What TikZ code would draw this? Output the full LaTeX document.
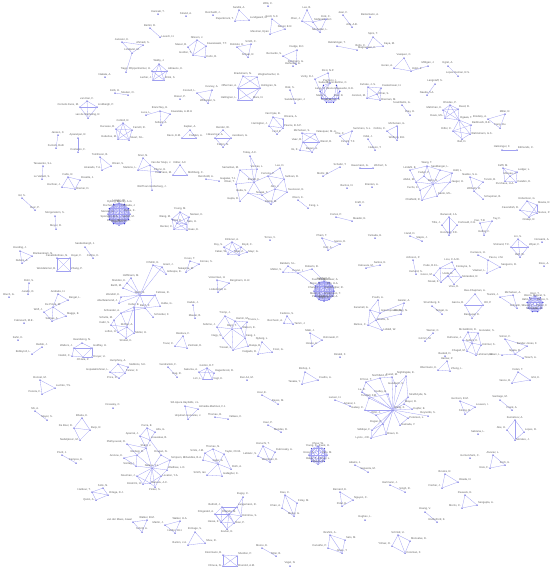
\documentclass[tikz,border=0pt]{standalone}
\usepackage{fontspec}
\setmainfont{Liberation Sans}
\usetikzlibrary{backgrounds}

\definecolor{audot}{RGB}{60,60,210}
\definecolor{coline}{RGB}{160,160,242}
\definecolor{lbltext}{RGB}{95,95,95}

\tikzset{
	au/.style={circle, fill=audot, inner sep=0pt, minimum size=1.5pt},
	lbl/.style={font=\fontsize{2.7}{3}\selectfont, text=lbltext, inner sep=0.3pt},
	co/.style={draw=coline, line width=0.3pt},
}

% one author: name, position, label side, text
\newcommand{\person}[4]{\node[au, label={[lbl]#3:{#4}}] (#1) at (#2) {};}

\begin{document}
\begin{tikzpicture}[x=1pt, y=-1pt]
	\useasboundingbox (0,0) rectangle (551,574);

	% top strip
	\person{wills}{268,6}{above}{Wills, C.}
	\person{reich}{213,15}{above}{Reichardt, J.}
	\person{strand}{186,16}{above}{Strand, A.}
	\person{kanz}{158,14}{above}{Kanzaki, T.}
	\person{sandik}{239,10}{above}{Sandik, A.}
	\person{papen}{235,21}{above left}{Papenbrock, T.}
	\person{lund}{249,20}{above right}{Lundgaard, G.}
	\person{scott}{272,19}{above}{Scott, S.C.}
	\person{daniel}{285,29}{above}{Daniel, E.R.}
	\person{mesman}{270,34}{above left}{Mesman, Ryan}
	\person{lee}{307,10}{above}{Lee, B.}
	\person{chenj}{302,21}{above left}{Chen, J.}
	\person{stef}{313,22}{above right}{Stefanelli, G.C.}
	\person{eick}{326,19}{above}{Eick, C.}
	\person{nesh}{320,32}{above}{Neshatian, L.}
	\person{jean}{343,15}{above}{Jean, F.}
	\person{alfa}{352,27}{above}{Alfa, A.B.}
	\person{berk}{370,17}{above}{Berkemann, A.}
	\person{spiro}{373,37}{above}{Spiro, T.}
	\person{bolts}{367,48}{above left}{Bolts, C.}
	\person{kaya}{383,46}{above right}{Kaya, M.}
	\person{bebl}{337,46}{above}{Beblahnger, T.}
	\person{magn}{357,50}{above right}{Magnussen, K.}
	\person{bert}{150,28}{above}{Bertini, R.}
	\person{loes}{160,37}{right}{Loesch, H.}
	\person{jans}{122,42}{above}{Jansson, K.}
	\person{ahmad}{143,45}{above}{Ahmadi, S.}
	\person{lindq}{132,53}{above}{Lindqvist, M.}
	\person{nils}{197,40}{above}{Nilsson, J.}
	\person{kowt}{206,46}{above right}{Kowalewski, T.T.}
	\person{mase}{188,47}{above left}{Maser, B.}
	\person{gord}{193,55}{above left}{Gordon, T.}
	\person{kuhn}{205,57}{right}{Kuhn, R.}
	\person{roli}{237,47}{above}{Rolinski, H.}
	\person{smic}{251,44}{above}{Smith, C.}
	\person{scha}{248,57}{above}{Schaal, R.}
	\person{dudg}{297,50}{above}{Dudge, B.C.}
	\person{bernar}{283,56}{above left}{Bernardo, S.}
	\person{ruhm}{296,64}{above}{Ruhmann, G.}
	\person{vasq}{404,58}{above}{Vasquez, C.}
	\person{goran}{394,68}{above left}{Goran, A.}
	\person{holst}{411,71}{above right}{Holst, P.}
	\person{milli}{428,66}{above}{Milligan, J.}
	\person{egret}{448,66}{above}{Egret, A.}
	\person{lopez}{458,76}{above}{Lopez-Hernan, R.S.}
	\person{lstaf}{435,84}{above}{Langstaff, S.}
	\person{naeda}{427,95}{above}{Naeda, V.A.}

	% upper left
	\person{tiago}{126,72}{above}{Tiago, P.}
	\person{nakata}{105,77}{above}{Nakata, A.}
	\person{kolb}{115,93}{above}{Kolb, H.}
	\person{meul}{128,95}{above}{Meulen, O.}
	\person{vkan}{87,101}{above}{van Kan, F.}
	\person{corn}{80,107}{above left}{Cornelis Kuns, M.}
	\person{lindb}{97,107}{above right}{Lindbergh, P.}
	\person{vwel}{88,118}{above}{van de Welhuling, R.}
	\person{cott}{123,123}{above}{Cottrell, R.}
	\person{duca}{116,129}{above left}{Ducasse, B.}
	\person{farr}{132,130}{above right}{Farrelli, R.}
	\person{hube}{118,139}{above left}{Hubertus, M.}
	\person{stua}{129,140}{above right}{Stuart, N.L.}
	\person{jansen}{58,135}{above}{Jansen, C.}
	\person{furn}{56,148}{above}{Furnish, Ruth}
	\person{apar}{78,138}{above}{Aparanjan, R.}
	\person{cost}{78,152}{above}{Costanzo, F.}
	\person{toml}{100,157}{above}{Tomlinson, B.}
	\person{oliv}{111,166}{above right}{Olivari, S.}
	\person{alva}{102,170}{above left}{Alvarado, T.A.}
	\person{tara}{43,166}{above}{Tarasenko, S.L.}
	\person{leva}{42,179}{above}{Le Vaillant, S.}
	\person{fall}{68,177}{above}{Fallis, R.}
	\person{rose}{80,180}{above right}{Rosette, J.}
	\person{hoch}{62,187}{above left}{Hochner, J.}
	\person{brem}{75,189}{right}{Bremer, D.}
	\person{gil}{22,198}{above}{Gil, S.}
	\person{ruiz}{35,210}{above}{Ruiz, P.}
	\person{morg}{55,216}{above}{Morgenstern, S.}
	\person{meyr}{56,229}{above}{Meyer, R.}

	% upper middle
	\person{walby}{159,64}{above}{Walby, J.}
	\person{oppe}{152,71}{above left}{Oppenheimer, H.}
	\person{adri}{167,71}{above right}{Adriaens, K.}
	\person{lach}{153,80}{above left}{Lacher, J.}
	\person{brin}{164,80}{above right}{Brink, S.}
	\person{brack}{243,76}{above}{Brackmann, N.}
	\person{wegh}{257,77}{above right}{Wegherbacher, H.}
	\person{offe}{238,88}{above left}{Offerman, A.}
	\person{holm}{260,88}{above right}{Holmgren, N.}
	\person{hall}{238,100}{above left}{Hallingren, L.}
	\person{marx}{252,100}{above right}{Marx, N.}
	\person{kevn}{212,90}{above}{Kevney, A.}
	\person{conn}{197,93}{above left}{Connell, L.}
	\person{whit}{208,103}{above}{Whitacker, S.}
	\person{bisser}{180,99}{above}{Bisser, P.}
	\person{branch}{160,111}{above}{Branchley, H.}
	\person{kowa}{170,114}{above right}{Kowalska, A.M.H.}
	\person{luca}{146,115}{above}{Luca, L.}
	\person{solt}{161,125}{above}{Soltani, A.}
	\person{kapl}{190,130}{above}{Kaplan, A.}
	\person{davi}{182,138}{above left}{Davis, E.M.}
	\person{fodd}{196,138}{above}{Fodden, A.}
	\person{bend}{223,130}{above}{Bender, W.}
	\person{hika}{215,138}{above}{Hikaomiya, A.}
	\person{jaco}{231,138}{above right}{Jacobsen, G.}
	\person{fult}{223,147}{above}{Fulton, N.}
	\person{vdyk}{273,117}{above}{Van Dyke, B.}
	\person{olive}{283,119}{above right}{Oliveira, A.}
	\person{harr}{269,126}{above left}{Harrington, J.}
	\person{pear}{283,128}{above right}{Pearce, B.S.P.}
	\person{lindf}{277,134}{above}{Lind, F.}
	\person{sino}{143,158}{above}{Sinor, N.}
	\person{vdsl}{150,165}{above right}{Van der Sluijs, J.}
	\person{cher}{160,172}{above}{Chervi, H.}
	\person{mart}{138,170}{above left}{Martens, L.}
	\person{wolf}{152,190}{above}{Wolff van Gelderberg, J.}
	\person{kibl}{180,165}{above}{Kibler, A.F.}
	\person{dpia}{173,175}{above left}{Del Piano, M.}
	\person{muhl}{187,175}{above right}{Mühlberg, C.}
	\person{rein}{206,179}{above}{Reinholdt, A.}
	\person{gaga}{219,181}{above right}{Gagalas, T.J.}

	% big group round Tokay
	\person{toka}{250,156}{above}{Tokay, A.C.}
	\person{sama}{240,170}{above left}{Samaritan, M.}
	\person{vorm}{257,169}{above}{Vormas, L.}
	\person{olit}{236,184}{above left}{Oliver, T.}
	\person{brandt}{254,182}{above}{Brandt, K.}
	\person{ferr}{268,176}{above}{Ferreira, P.}
	\person{leed}{280,168}{above}{Lee, D.}
	\person{sull}{284,179}{above right}{Sullivan, R.}
	\person{iked}{248,193}{above left}{Ikeda, S.}
	\person{nowa}{262,195}{above}{Nowak, T.}
	\person{ahnj}{275,189}{above}{Ahn, J.}
	\person{sven}{287,192}{above right}{Svensson, E.}
	\person{gupt}{240,201}{above left}{Gupta, R.}
	\person{cast2}{271,204}{above}{Castro, M.}

	% dense group left
	\foreach \i/\nm in {1/{Stanley, A.G.},2/{Hamada, J.},3/{Byrne, K.},4/{Seifert, M.},5/{Moreno, L.},6/{Dagenais, P.},
		7/{Kovacs, E.},8/{Sprengel, M.S.},9/{Mercier, G.},10/{Fischer, K.},11/{Dybvig, A.},12/{Lorenz, W.}}
		\node[au, label={[lbl]above:\nm}] (st\i) at ({119+11*cos(30*\i-90)},{214+11*sin(30*\i-90)}) {};
	\person{youn}{180,212}{above}{Young, M.}
	\person{wangm}{172,219}{above left}{Wang, M.}
	\person{niel}{189,217}{above right}{Nielsen, K.}
	\person{pohl}{177,223}{above}{Pohl, R.}
	\person{sato}{186,224}{above right}{Sato, H.}
	\person{beck}{174,229}{above left}{Becker, C.}
	\person{haas}{187,230}{right}{Haas, E.}
	\person{sand}{85,247}{above}{Sandenbergh, J.}
	\person{coll}{93,258}{above}{Collins, K.}
	\person{klin}{232,242}{above}{Klinkner, A.}
	\person{roys}{224,247}{above left}{Roy, S.}
	\person{boyd}{241,247}{above right}{Boyd, C.}
	\person{fabe}{228,254}{above left}{Faber, W.}
	\person{iqba}{239,255}{above}{Iqbal, Z.}
	\person{mayr}{247,252}{right}{Mayr, G.}

	% left middle
	\person{hood}{20,251}{above}{Hooding, J.}
	\person{blank}{32,256}{above right}{Blankenkram, N.}
	\person{dubo}{22,263}{above}{Dubois, A.}
	\person{casa}{57,258}{above}{Casalinbottnes, N.}
	\person{hoye}{70,258}{above right}{Hoyer, F.}
	\person{wdsm}{57,271}{above left}{Wendelsmer, B.}
	\person{zhan}{70,271}{above right}{Zhang, P.}
	\person{rohr}{29,283}{above}{Rohr, S.}
	\person{jura}{28,294}{above}{Jurado, O.}
	\person{bruch}{9,297}{above}{Bruch, G.}
	\person{andr}{58,294}{above}{Andrade, H.}
	\person{bergl}{68,300}{above right}{Bergal, L.}
	\person{dpin}{53,307}{above}{De Pinna, M.}
	\person{wolfj}{44,312}{above left}{Wolf, J.}
	\person{magg}{66,316}{above right}{Maggs, E.}
	\person{sali}{52,321}{above}{Salinas, A.}
	\person{fabr}{24,323}{above}{Fabreiuch, M.E.}
	\person{kahn}{18,340}{above}{Kahn, K.}
	\person{bedd}{42,347}{above}{Beddo, J.}
	\person{bobb}{32,354}{above left}{Bobbyroll, L.}
	\person{hear}{82,343}{above}{Heardsong, N.}
	\person{walt}{74,348}{above left}{Walters, J.}
	\person{godf}{92,348}{above right}{Godfrey, H.}
	\person{nesb}{72,356}{left}{Nesbit, C.}
	\person{ohar}{83,357}{below}{O'Hara, P.}
	\person{drey}{92,357}{right}{Dreyer, U.}

	% group round Weiss
	\person{ilmi}{153,265}{above}{Ill Minh, E.}
	\person{gran}{162,267}{above right}{Grant, J.}
	\person{gill}{166,274}{above right}{Gillespie, E.}
	\person{hoff}{131,278}{above}{Hoffmann, M.}
	\person{shel}{127,283}{above left}{Sheldon, K.}
	\person{bart}{123,288}{above left}{Barth, M.}
	\person{weis}{140,295}{above}{Weiß, B.}
	\person{fell}{155,295}{above right}{Fellows, R.}
	\person{wend}{121,297}{above left}{Wendoll, K.}
	\person{abul}{119,303}{above left}{Abulfaramond, J.}
	\person{kell}{134,307}{above}{Keller, B.}
	\person{bach}{145,308}{above}{Bach, F.}
	\person{hulb}{160,306}{above right}{Hulbe, G.}
	\person{schn}{121,313}{above left}{Schneider, A.}
	\person{schr}{153,317}{above right}{Schreiber, F.}
	\person{schu}{114,320}{above left}{Schulte, M.}
	\person{kabi}{111,325}{above left}{Kabir, S.}
	\person{rich}{127,327}{above}{Richter, A.}
	\person{loft}{118,332}{left}{Lofton, H.}
	\person{muel}{134,333}{right}{Müller, H.}
	\person{stro}{126,338}{below}{Strobel, K.}
	\person{krus}{190,261}{above}{Kruss, T.}
	\person{korn}{199,264}{above right}{Kornev, S.}
	\person{naka}{186,272}{above}{Nakajima, M.}
	\person{vick}{217,280}{above}{Vickerman, H.}
	\person{bergm}{229,283}{above right}{Bergmann, H.-R.}
	\person{lind}{218,292}{above}{Lindenblatt, A.}
	\person{kadu}{193,305}{above}{Kaduk, J.}
	\person{maur}{195,318}{above}{Maurer, B.}
	\person{trom}{225,316}{above}{Tromp, J.}
	\person{hamm}{235,321}{above right}{Hamm, M.}
	\person{trus}{247,322}{above right}{Trusov, L.}
	\person{sobr}{217,327}{above left}{Sobrino, J.}
	\person{bergt}{232,329}{above}{Berg, T.}
	\person{wats}{241,328}{right}{Watson, E.}
	\person{nagy}{223,338}{above left}{Nagy, S.}
	\person{kang}{245,338}{above right}{Kang, J.}
	\person{tros}{233,350}{above left}{Trosset, J.}
	\person{balu}{248,346}{right}{Baluja, B.}
	\person{bied}{183,336}{above}{Biedova, F.}
	\person{tova}{175,346}{above left}{Tovar, C.}
	\person{ziel}{187,348}{above right}{Zielinski, D.}
	\person{hump}{118,364}{above}{Humphrey, A.}
	\person{steb}{128,367}{above right}{Stebbins, S.K.}
	\person{gopa}{110,372}{above left}{Gopalakrishnan, L.}
	\person{tann}{125,373}{above right}{Tanner, C.}
	\person{pric}{119,378}{left}{Price, D.}
	\person{vend}{168,367}{above}{Vendramini, F.}
	\person{dagr}{177,377}{above}{Dag, R.}
	\person{gort}{207,368}{above}{Gorton, D.T.}
	\person{saku}{199,372}{above left}{Sakuma, A.}
	\person{hage}{214,373}{above right}{Hagenbrock, R.}
	\person{liml}{203,379}{left}{Lim, L.}
	\person{vogt}{212,379}{right}{Vogt, K.}
	\person{bena}{247,380}{above}{Ben-Ari, M.}

	% lower middle left
	\person{dreas}{113,408}{above}{Dreasley, C.}
	\person{sill}{185,406}{above}{Sill-Apura Hayfelds, J.L.}
	\person{alme}{198,409}{above right}{Almeida-Martinez, F.J.}
	\person{urqu}{188,419}{above}{Urquhart-Gonzales, J.}
	\person{thom}{215,417}{above}{Thomas, R.}
	\person{valt}{228,419}{above right}{Valtaes, C.}
	\person{parr}{147,428}{above}{Parra, E.}
	\person{alfg}{155,432}{above right}{Alfa, G.}
	\person{apar2}{140,436}{above left}{Aparnal, J.}
	\person{lisa}{150,440}{above right}{Lisauskas, B.}
	\person{plat}{127,444}{above left}{Plathyoucek, O.}
	\person{shar}{146,448}{above}{Shark, J.}
	\person{vezd}{137,455}{above}{Vezdegi, R.}
	\person{aron}{124,458}{above left}{Aronow, K.}
	\person{drag}{161,455}{above}{Dragan, N.}
	\person{simp}{170,460}{above right}{Simpson, E.}
	\person{sont}{136,466}{above left}{Sontag, I.}
	\person{nata}{152,468}{above}{Natasu, J.L.}
	\person{wadh}{167,470}{above right}{Wadhwe, L.O.}
	\person{nour}{137,476}{left}{Nourman, J.}
	\person{lova}{161,476}{right}{Lovaton, Y.A.}
	\person{marv}{150,483}{right}{Marvulu, A.C.}
	\person{ekst}{143,484}{left}{Ekström, H.}
	\person{pink}{155,487}{below}{Pinker, S.}
	\person{thon}{213,449}{above}{Thomas, N.}
	\person{smij}{205,453}{above left}{Smits, J.M.}
	\person{tayl}{224,454}{above right}{Taylor, Chr.B.}
	\person{chan}{203,460}{above left}{Chandles, B.A.}
	\person{jage}{218,464}{above}{Jager, A.}
	\person{roth}{231,469}{above right}{Roth, A.}
	\person{smit}{207,475}{above left}{Smith, Ian}
	\person{gall}{222,476}{above right}{Gallagher, K.}
	\person{soli}{103,488}{above}{Solis, N.}
	\person{orte}{108,495}{above right}{Ortega, D.J.}
	\person{harb}{92,492}{above left}{Harbour, T.}
	\person{quin}{96,500}{left}{Quinn, A.}
	\person{bugs}{243,497}{above}{Bugsy, C.}
	\person{butf}{222,507}{above left}{Butford, J.}
	\person{lang}{237,507}{above right}{Langemann, R.}
	\person{fitz}{215,514}{above left}{Fitzgerald, A.}
	\person{orla}{229,514}{above}{Orlando, M.}
	\person{dimi}{241,516}{right}{Dimitriou, S.}
	\person{hess}{221,522}{left}{Hesse, K.}
	\person{ravi}{234,523}{right}{Ravi, P.}
	\person{kovt}{227,529}{below}{Kovtun, E.}
	\person{wbm}{147,520}{above}{Walker, B.M.}
	\person{vdma}{133,522}{above left}{van der Maes, Jawal}
	\person{schj}{142,532}{above}{Schrijf, A.}
	\person{wha}{180,521}{above}{Walker, H.A.}
	\person{mjar}{165,525}{above left}{Martin, J.}
	\person{herb}{175,533}{above}{Herbst, H.H.}
	\person{elha}{195,532}{above}{El-Hage, S.}
	\person{barj}{188,545}{above left}{Barton, J.A.}
	\person{sheu}{205,543}{above right}{Sheu, R.}
	\person{klei}{223,555}{above left}{Kleinmann, B.}
	\person{sheld}{237,556}{above right}{Sheldon, P.}
	\person{dhru}{223,566}{left}{Dhruva, N.}
	\person{brun}{237,566}{right}{Brunold, A.M.}

	% lower left
	\person{bonn}{40,380}{above}{Bonnet, M.}
	\person{luch}{55,388}{above right}{Luchko, T.S.}
	\person{pere}{42,394}{above left}{Pereira, F.}
	\person{shia}{35,411}{above}{Shi, A.}
	\person{meys}{47,420}{above}{Meyer, S.}
	\person{bhat}{82,418}{above}{Bhatia, K.}
	\person{boer}{74,428}{above left}{De Boer, D.}
	\person{buij}{90,430}{above right}{Buijs, R.}
	\person{nede}{80,440}{left}{Nedeljkovic, M.}
	\person{prui}{62,455}{above}{Pruitt, J.}
	\person{camp}{76,463}{above}{Campos, E.}

	% upper right of centre
	\person{heih}{293,66}{above}{Heihuiser, G.}
	\person{ricci}{328,73}{above}{Ricci, N.P.}
	\person{veri}{315,79}{above left}{Verity, D.J.}
	\foreach \i/\nm in {1/{Ghezzi-Bellino, C.},2/{Okuns-Muaxuebo, E.E.},3/{Ruiz, D.},4/{Haluzan, S.},5/{Bose, A.},
		6/{Marti, L.},7/{Lang, H.},8/{Suda, T.},9/{Pacheco, I.}}
		\node[au, label={[lbl]above:\nm}] (gz\i) at ({330+10*cos(40*\i-90)},{93+10*sin(40*\i-90)}) {};
	\person{rizk}{290,90}{above}{Rizk, S.}
	\person{sandb}{295,103}{above}{Sanderbergen, J.}
	\person{kuha}{368,87}{above}{Kuhate, J.-S.}
	\person{cast}{381,88}{above right}{Casteshaver, H.}
	\person{omar}{377,94}{right}{Omar, S.}
	\person{jons}{367,98}{above left}{Jonsten, M.}
	\person{bren}{380,100}{right}{Brennan, M.}
	\person{scam}{402,105}{above}{Scambiello, G.}
	\person{dray}{410,115}{above}{Dray, H.}
	\person{mich}{302,133}{above}{Michelsen, S.}
	\person{vela}{315,134}{above right}{Velasquez, M.-A.}
	\person{wenz}{319,142}{right}{Wenzl, B.}
	\person{vaaz}{303,142}{above left}{Vaaz, B.}
	\person{itok}{300,150}{left}{Ito, K.}
	\person{begu}{312,152}{above}{Begun, A.}
	\person{chuc}{340,136}{above}{Chu, C.}
	\person{summ}{352,131}{above right}{Summers, S.L.}
	\person{circ}{348,144}{above}{Circelli, T.F.}
	\person{vida}{368,139}{above}{Vidal, J.}
	\person{huds}{375,150}{above}{Hudson, T.}
	\person{micg}{397,126}{above}{Michelsen, G.}
	\person{colc}{387,131}{above left}{Collins, C.}
	\person{wolb}{397,140}{above}{Wolfson, B.E.}
	\person{schaf}{340,167}{above}{Schafer, T.}
	\person{morm}{323,176}{above}{Moritz, M.}
	\person{haus}{360,168}{above}{Hausmann, G.}
	\person{wich}{373,168}{above right}{Wichert, S.}
	\person{barn}{347,188}{above}{Barrios, N.}
	\person{brent}{372,187}{above}{Brenten, A.}

	% right upper
	\person{rhod}{450,105}{above}{Rhodes, P.}
	\person{mahl}{443,110}{above left}{Mahlman, K.}
	\person{reed}{458,109}{above right}{Reed, R.}
	\person{davm}{445,118}{above left}{Davis, M.L.}
	\person{ogaw}{459,120}{above right}{Ogawa, T.}
	\person{baib}{471,125}{above right}{Baibhushi, B.E.}
	\person{dilf}{453,131}{above left}{Dilfer, C.}
	\person{wahl}{470,134}{right}{Wahlsmann, G.S.}
	\person{balld}{462,139}{below}{Ball, D.}
	\person{mill}{505,114}{above}{Miller, R.}
	\person{brod}{488,119}{above left}{Brodsky, A.}
	\person{fang}{500,128}{above}{Fang, Ru}
	\person{halz}{502,150}{above}{Halzsinger, F.}
	\person{edmu}{517,150}{above right}{Edmunds, C.}
	\person{naid}{470,177}{above}{Naidoo, S.A.}
	\person{tenz}{483,182}{above right}{Tenzin, B.}
	\person{wilh}{474,191}{above}{Wilhelm, R.}
	\person{schup}{483,199}{above right}{Schupman, B.}
	\person{kefft}{503,168}{above}{Kefft, M.}
	\person{ledg}{517,172}{above right}{Ledger, L.}
	\person{more}{510,176}{above}{Moreau, J.}
	\person{purc}{505,181}{below}{Purchase, H.A.}
	\person{calab}{516,182}{right}{Calabro, D.}
	\person{lindh}{410,170}{above}{Lindahl, E.}
	\person{wtt}{427,166}{above}{Wang, T.}
	\person{sndb}{440,170}{above}{Sandberger, L.}
	\person{hutt}{452,173}{above right}{Hüttl, L.}
	\person{fedy}{424,176}{above}{Fedyk, P.}
	\person{abdu}{416,182}{above left}{Abdul, M.}
	\person{jaeg}{450,182}{right}{Jaeger, H.}
	\person{bergh}{433,184}{above}{Berg, H.}
	\person{fuch}{420,190}{above left}{Fuchs, C.}
	\person{kant}{437,196}{above right}{Kanto, M.L.}
	\person{chat}{422,200}{left}{Chatfield, R.}

	% right middle
	\person{robg}{527,201}{above}{Robertson, G.}
	\person{mavk}{537,205}{above right}{Mavka, R.}
	\person{cave}{520,210}{above left}{Cavendish, R.}
	\person{nune}{537,213}{right}{Nunes, P.}
	\person{ozal}{529,217}{below}{Ozalep, R.}
	\person{barw}{449,217}{above}{Barwood, J.A.}
	\person{till}{442,225}{above left}{Tillis, J.}
	\person{corb}{457,225}{above right}{Corbould, C.H.}
	\person{hors}{449,235}{above}{Horsman, F.D.}
	\person{fao}{480,223}{above}{Fao, T.R.}
	\person{tayf}{492,221}{above right}{Tay, F.}
	\person{helb}{484,235}{above}{Helbig, F.}
	\person{hand}{410,236}{above}{Hand, D.}
	\person{stap}{422,241}{above}{Staple, J.}
	\person{lins}{518,239}{above}{Lin, S.}
	\person{shma}{511,247}{above left}{Shmand, T.C.}
	\person{wipe}{528,247}{above right}{Wiper, F.}
	\person{bell}{520,257}{above}{Bell, W.}
	\person{nons}{542,242}{above}{Nonsarik, A.}
	\person{carr}{478,255}{above}{Carrasco, H.}
	\person{pasc}{488,260}{above right}{Pascu, J.M.}
	\person{sang}{500,267}{above right}{Sanguino, R.}
	\person{vita}{487,273}{above left}{Vitalzeri, L.}
	\person{johp}{413,260}{above}{Johnson, P.}
	\person{kerl}{416,274}{above}{Kerlund, S.}
	\person{liou}{452,262}{above}{Liou, C.A.W.}
	\person{pude}{440,268}{above left}{Pude, R.K.L.}
	\person{font}{455,269}{above right}{Fonteyne, S.}
	\person{grec}{434,275}{left}{Greco, M.}
	\person{ueda}{448,276}{above}{Ueda, R.}
	\person{mola}{461,277}{right}{Molandez, R.}
	\person{nova}{441,282}{left}{Novak, K.}
	\person{vrie}{454,284}{below}{Vries, D.}
	\person{rossa}{544,266}{above}{Ross, A.}
	\person{beec}{475,294}{above}{Bee-Chapman, A.}
	\person{garb}{465,305}{above left}{Garcia, B.}
	\person{ottp}{483,305}{above right}{Ott, P.}
	\person{bang}{472,318}{above}{Bangupal, D.}
	\person{micha}{513,295}{above}{Michalsen, A.}
	\person{tsan}{500,297}{above left}{Tsanini, J.}
	\person{schs}{517,308}{above}{Schnelln, S.}
	\foreach \i/\nm in {1/{Laszet, S.},2/{Barros, V.},3/{Kaiser, F.},4/{Soto, R.},5/{Mehta, N.},
		6/{Duval, J.},7/{Hahn, P.},8/{Okoro, E.},9/{Ruiz, T.}}
		\node[au, label={[lbl]above:\nm}] (lz\i) at ({535+8*cos(40*\i-90)},{304+8*sin(40*\i-90)}) {};
	\person{strm}{432,306}{above}{Strumberg, K.}
	\person{tsin}{442,314}{above}{Tsingal, G.}
	\person{wern}{433,333}{above}{Werner, C.}
	\person{grim}{425,341}{above}{Grimm, M.}
	\person{mcgo}{468,332}{above}{McGoldrick, D.}
	\person{gonz}{478,333}{above right}{Gonzalez, S.}
	\person{dufr}{463,340}{above left}{Dufresne, J.}
	\person{aube}{472,343}{above}{Aubert, C.}
	\person{kimm}{481,345}{right}{Kimmel, S.}
	\person{chag}{467,351}{left}{Chagall, M.}
	\person{lehm}{476,355}{right}{Lehmann, O.}
	\person{badd}{445,356}{above}{Badedi, D.}
	\person{simo}{505,339}{above}{Simon, F.}
	\person{band}{527,346}{above}{Bander-Jones, F.}
	\person{ngat}{515,354}{above}{Ngata, R.}
	\person{gela}{502,355}{left}{Gelani, L.}
	\person{tora}{523,358}{right}{Torach, A.}

	% centre
	\person{olse}{298,200}{above}{Olsen, K.}
	\person{feng}{308,208}{above right}{Feng, L.}
	\person{cort}{336,217}{above}{Cortez, P.}
	\person{mead}{352,221}{above right}{Meador, E.}
	\person{kraf}{360,205}{above}{Kraft, C.}
	\person{pham}{322,238}{above}{Pham, T.}
	\person{ivan}{340,244}{above}{Ivanov, D.}
	\person{kerr}{328,250}{above}{Kerr, A.}
	\person{yama}{375,238}{above}{Yamada, H.}
	\person{torr}{270,240}{above}{Torres, V.}
	\person{kats}{366,268}{above}{Katsuura, M.}
	\person{sant}{380,265}{above}{Santos, E.}
	\person{bald}{288,266}{above}{Baldwin, S.L.}
	\person{mull}{283,272}{above left}{Müller, S.}
	\person{kova}{298,273}{above}{Kovac, I.}
	\person{robe}{312,269}{above}{Roberts, B.}
	\foreach \i/\nm in {1/{Heugebauer, A.},2/{Kim, H.A.},3/{Hambergher, R.},4/{Brinkmann, T.},5/{Hellenbrand, A.},6/{Vogel, S.},
		7/{Paulsen, K.},8/{Meier, J.},9/{Chang, L.},10/{Rossi, G.},11/{Fuentes, M.},12/{Lambert, C.}}
		\node[au, label={[lbl]above:\nm}] (hb\i) at ({324+10*cos(30*\i-90)},{291+10*sin(30*\i-90)}) {};
	\person{fedo}{287,316}{above}{Fedorov, S.}
	\person{borc}{284,323}{above left}{Borcheck, A.}
	\person{tamm}{293,324}{right}{Tamm, J.}
	\person{poul}{378,300}{above}{Poulin, A.}
	\person{karam}{370,310}{above left}{Karamell, G.}
	\person{gian}{380,313}{above right}{Giannopoulos, N.}
	\person{bhut}{376,320}{right}{Bhutto, S.}
	\person{rama}{368,325}{left}{Ramos, C.}
	\person{lidd}{382,330}{right}{Liddell, W.}
	\person{geis}{404,303}{above}{Geisler, A.}
	\person{wool}{401,314}{above}{Woolley, N.}
	\person{nybe}{262,342}{above}{Nyberg, L.}
	\person{fros}{272,352}{above right}{Frost, G.}
	\person{delg}{258,354}{above left}{Delgado, R.}
	\person{maki}{310,333}{above}{Mäki, J.}
	\person{ostr}{322,340}{above right}{Ostrowski, P.}
	\person{hira}{312,346}{above}{Hirano, K.}
	\person{rina}{340,357}{above}{Rinaldi, F.}
	\person{bish}{305,372}{above}{Bishop, J.}
	\person{coel}{318,380}{above right}{Coelho, A.}
	\person{tana}{302,384}{above left}{Tanaka, Y.}
	\person{ucar}{262,395}{above}{Ucar, E.}
	\person{reye}{278,404}{above}{Reyes, M.}
	\person{lars}{335,400}{above}{Larsen, H.}
	\person{amar}{350,406}{above}{Amaral, J.}

	% star group round Wang
	\person{wang}{393,410}{above right}{Wang, X.}
	\person{dcru}{366,382}{above}{D'Cruz, T.}
	\person{nort}{380,378}{above}{Northfield, K.}
	\person{kura}{392,377}{above}{Kuralt, M.}
	\person{nigh}{406,376}{above}{Nightingale, E.}
	\person{lur}{362,392}{above}{Lu, R.}
	\person{gund}{396,386}{above}{Gundlach, S.}
	\person{dudl}{388,394}{above left}{Dudley, B.}
	\person{tuns}{369,398}{above}{Tunstall, F.M.}
	\person{stra}{408,397}{above right}{Strathclyde, N.}
	\person{maye}{404,404}{above right}{Mayer, R.}
	\person{kupf}{412,409}{right}{Kupfer, E.}
	\person{gala}{365,410}{above left}{Galaxy, C.}
	\person{orti}{376,415}{above}{Ortiz, J.}
	\person{pete}{408,418}{right}{Petersen, L.}
	\person{hama}{400,425}{right}{Hamada, Y.}
	\person{roga}{383,424}{above left}{Rogan, P.}
	\person{sidd}{372,430}{left}{Siddiqui, F.}
	\person{lyon}{371,438}{left}{Lyons, J.W.}
	\person{brau}{386,434}{right}{Braun, D.}
	\person{reyn}{428,416}{above}{Reynolds, S.}
	\person{harl}{447,361}{above}{Harlow, P.}
	\person{ober}{438,370}{above left}{Obermann, K.}
	\person{zhen}{450,371}{above right}{Zheng, L.}
	\person{gerr}{460,401}{above}{Gerrison, E.M.}
	\person{louw}{475,407}{above right}{Louwen, I.}
	\person{stro2}{465,414}{above}{Strong, B.}
	\person{sabr}{478,434}{above}{Sabrana, L.}
	\person{gome}{470,458}{above}{Gomersham, C.}

	% lower right
	\person{dola}{518,372}{above}{Dolan, T.}
	\person{ishi}{530,380}{above right}{Ishii, K.}
	\person{vane}{512,383}{above left}{Vance, B.}
	\person{sant2}{500,400}{above}{Santiago, M.}
	\person{fran}{512,410}{above}{Frank, A.}
	\person{kuzn}{515,420}{above}{Kuznetsov, A.}
	\person{abeh}{507,430}{above left}{Abe, H.}
	\person{lope}{524,432}{above right}{Lopes, R.}
	\person{mora}{515,440}{right}{Morales, J.}
	\person{alva2}{493,455}{above}{Alvarez, L.}
	\person{koch}{505,465}{above}{Koch, U.}
	\person{reis}{490,468}{left}{Reis, F.}
	\person{brook}{445,474}{above}{Brooks, R.}
	\person{okad}{458,482}{above right}{Okada, N.}
	\person{fisc}{442,488}{above left}{Fischer, J.}
	\person{pauw}{465,495}{above}{Pauwels, E.}
	\person{seng}{477,505}{above right}{Sengupta, A.}
	\person{morr}{462,508}{above left}{Morris, C.}
	\person{hoan}{425,512}{above}{Hoang, V.}
	\person{ruth}{437,522}{above}{Rutherford, K.}
	\person{schm}{398,535}{above}{Schmid, U.}
	\person{mons}{410,541}{above right}{Monsalve, D.}
	\person{yilm}{392,546}{above left}{Yilmaz, O.}
	\person{cole}{405,553}{right}{Coleman, F.}

	% lower centre
	\person{kaur}{268,425}{above}{Kaur, P.}
	\person{mend}{281,432}{above}{Mendes, R.}
	\person{hori}{263,446}{above}{Horiuchi, T.}
	\person{dubr}{275,452}{above right}{Dubrovsky, A.}
	\person{lebl}{258,456}{above left}{Leblanc, S.}
	\person{wein}{270,462}{above}{Weinstein, D.}
	\foreach \i/\nm in {1/{Kwok, H.},2/{Sato, M.},3/{Ferrari, L.},4/{Nilsson, P.},5/{Baker, T.},6/{Rossi, A.},7/{Young, D.},8/{Chow, W.}}
		\node[au, label={[lbl]above:\nm}] (kw\i) at ({318+9*cos(45*\i-90)},{455+9*sin(45*\i-90)}) {};
	\person{adam}{355,465}{above}{Adams, J.}
	\person{sequ}{368,472}{above}{Sequeira, M.}
	\person{dias}{285,495}{above}{Dias, C.}
	\person{fole}{297,503}{above right}{Foley, M.}
	\person{khan}{282,508}{above left}{Khan, A.}
	\person{mose}{294,516}{above}{Moser, G.}
	\person{bern}{340,492}{above}{Bernard, E.}
	\person{ngoc}{353,500}{above right}{Nguyen, C.}
	\person{pola}{342,506}{above}{Polat, H.}
	\person{hart}{390,485}{above}{Hartmann, J.}
	\person{sing}{405,492}{above}{Singh, R.}
	\person{hugh}{365,520}{above}{Hughes, L.}
	\person{moor}{262,548}{above}{Moore, E.}
	\person{tell}{276,556}{above}{Teller, B.}
	\person{vogl}{290,566}{above}{Vogel, N.}
	\person{ibra}{330,535}{above}{Ibrahim, A.}
	\person{salo}{345,540}{above right}{Salo, M.}
	\person{carv}{328,548}{above left}{Carvalho, P.}
	\person{jone}{342,553}{above}{Jones, T.}

	\begin{scope}[on background layer]
		% dense groups
		\foreach \i in {1,...,12} \foreach \j in {1,...,12}
			{\ifnum\i<\j \draw[co] (st\i) -- (st\j); \draw[co] (hb\i) -- (hb\j); \fi}
		\foreach \i in {1,...,9} \foreach \j in {1,...,9}
			{\ifnum\i<\j \draw[co] (lz\i) -- (lz\j); \fi}
		\foreach \i in {1,...,9} \foreach \j in {1,...,9}
			{\ifnum\i<\j \ifnum\numexpr\j-\i\relax<4 \draw[co] (gz\i) -- (gz\j); \fi\fi}
		\foreach \i in {1,...,8} \foreach \j in {1,...,8}
			{\ifnum\i<\j \draw[co] (kw\i) -- (kw\j); \fi}
		% top
		\foreach \a/\b in {sandik/papen, papen/lund, lund/sandik, scott/daniel, daniel/mesman, mesman/scott,
			lee/chenj, lee/stef, chenj/stef, stef/eick, stef/nesh, eick/nesh, chenj/nesh, jean/alfa,
			spiro/bolts, spiro/kaya, bolts/kaya, bebl/magn, bert/loes, jans/ahmad, jans/lindq, ahmad/lindq,
			lindq/tiago, nils/kowt, nils/mase, nils/gord, kowt/kuhn, kowt/gord, mase/gord, gord/kuhn,
			roli/smic, smic/scha, roli/scha, dudg/bernar, dudg/ruhm, bernar/ruhm, vasq/goran, vasq/holst,
			goran/holst, holst/milli, egret/lopez, lstaf/naeda}
			\draw[co] (\a) -- (\b);
		% upper left and upper middle
		\foreach \a/\b in {kolb/meul, vkan/corn, vkan/lindb, corn/lindb, corn/vwel, lindb/vwel, vkan/vwel,
			cott/duca, cott/farr, cott/hube, cott/stua, duca/farr, duca/hube, duca/stua, farr/hube, farr/stua,
			hube/stua, jansen/furn, apar/cost, toml/oliv, toml/alva, oliv/alva, tara/leva, fall/rose,
			fall/hoch, fall/brem, rose/brem, hoch/brem, gil/ruiz, morg/meyr,
			walby/oppe, walby/adri, walby/lach, walby/brin, oppe/adri, oppe/lach, oppe/brin, adri/lach,
			adri/brin, lach/brin, brack/wegh, brack/offe, brack/holm, wegh/holm, wegh/offe, offe/holm,
			offe/hall, offe/marx, holm/hall, holm/marx, hall/marx, kevn/conn, kevn/whit, conn/whit,
			branch/luca, branch/solt, branch/kowa, kowa/solt, kapl/davi, kapl/fodd, davi/fodd,
			bend/hika, bend/jaco, hika/jaco, hika/fult, jaco/fult, vdyk/olive, vdyk/harr, vdyk/pear,
			olive/pear, harr/pear, harr/lindf, pear/lindf, sino/vdsl, sino/mart, vdsl/cher, vdsl/mart,
			mart/cher, vdsl/wolf, kibl/dpia, kibl/muhl, dpia/muhl, rein/gaga}
			\draw[co] (\a) -- (\b);
		% Tokay, Young, Klinkner
		\foreach \a/\b in {toka/brandt, toka/vorm, sama/vorm, sama/brandt, vorm/brandt, olit/brandt,
			olit/sama, brandt/ferr, ferr/leed, leed/sull, ferr/sull, brandt/iked, brandt/nowa, iked/nowa,
			nowa/ahnj, ahnj/ferr, ahnj/sull, ahnj/sven, sull/sven, iked/gupt, gupt/olit, nowa/cast2,
			cast2/ahnj, cast2/sven, iked/cast2,
			youn/wangm, youn/niel, youn/pohl, youn/sato, wangm/pohl, wangm/beck, niel/sato, niel/pohl,
			pohl/sato, pohl/beck, pohl/haas, sato/haas, sato/beck, beck/haas, wangm/sato, niel/haas,
			sand/coll, klin/roys, klin/boyd, klin/fabe, klin/iqba, roys/fabe, roys/iqba, boyd/iqba,
			boyd/mayr, fabe/iqba, iqba/mayr, boyd/fabe}
			\draw[co] (\a) -- (\b);
		% left middle
		\foreach \a/\b in {hood/blank, hood/dubo, blank/dubo, casa/hoye, casa/wdsm, casa/zhan, hoye/zhan,
			hoye/wdsm, wdsm/zhan, rohr/jura, andr/bergl, andr/dpin, bergl/dpin, dpin/wolfj, dpin/magg,
			dpin/sali, wolfj/sali, magg/sali, bedd/bobb, hear/walt, hear/godf, walt/godf, walt/nesb,
			walt/ohar, godf/ohar, godf/drey, nesb/ohar, ohar/drey}
			\draw[co] (\a) -- (\b);
		% Weiss and neighbours
		\foreach \a/\b in {weis/ilmi, weis/gran, weis/hoff, weis/shel, weis/bart, weis/wend, weis/abul,
			weis/kell, weis/bach, weis/fell, ilmi/gran, gran/gill, ilmi/gill, hoff/shel, shel/bart,
			bach/fell, bach/hulb, bach/schr, bach/kell, bach/schn, schn/kell, schn/schu, schu/kabi,
			kabi/rich, rich/schn, rich/kell, loft/kabi, loft/rich, muel/rich, muel/kell, stro/loft,
			stro/muel, stro/rich, schu/loft, fell/hulb, wend/abul,
			krus/korn, korn/naka, naka/krus, vick/bergm, bergm/lind, lind/vick, kadu/maur,
			trom/hamm, trom/sobr, trom/bergt, hamm/trus, hamm/bergt, hamm/wats, trus/wats, trus/kang,
			sobr/bergt, sobr/nagy, bergt/nagy, bergt/wats, bergt/tros, wats/kang, nagy/tros, kang/balu,
			tros/balu, kang/tros, bergt/kang, bied/tova, tova/ziel, ziel/bied,
			hump/steb, hump/gopa, hump/tann, steb/tann, gopa/pric, tann/pric, gopa/tann, vend/dagr,
			gort/saku, gort/hage, saku/hage, saku/liml, hage/vogt, liml/vogt, gort/liml, gort/vogt}
			\draw[co] (\a) -- (\b);
		% lower middle left
		\foreach \a/\b in {sill/alme, alme/urqu, urqu/sill, thom/valt,
			parr/alfg, parr/apar2, parr/lisa, alfg/lisa, apar2/lisa, apar2/shar, lisa/shar, plat/shar,
			plat/vezd, aron/vezd, shar/vezd, vezd/nata, shar/nata, drag/nata, simp/nata, drag/simp,
			simp/wadh, wadh/nata, sont/nata, sont/vezd, nour/nata, lova/nata, marv/nata, ekst/nata,
			pink/nata, nour/ekst, ekst/marv, marv/pink, pink/lova, lova/wadh, nour/marv, lova/marv,
			aron/sont, lisa/drag,
			thon/smij, thon/tayl, thon/jage, smij/jage, tayl/jage, chan/jage, roth/jage, smit/jage,
			gall/jage, smit/gall, chan/smij, tayl/roth, soli/orte, soli/harb, harb/quin, orte/quin, harb/orte,
			bugs/lang, bugs/dimi, butf/lang, butf/fitz, butf/orla, butf/hess, lang/orla, lang/dimi,
			fitz/orla, fitz/hess, orla/dimi, orla/hess, orla/ravi, orla/kovt, dimi/ravi, hess/ravi,
			hess/kovt, ravi/kovt, butf/ravi, lang/hess, fitz/kovt,
			wbm/vdma, vdma/schj, schj/wbm, wha/mjar, mjar/herb, herb/wha, elha/barj, barj/sheu, sheu/elha,
			klei/sheld, klei/dhru, sheld/brun, dhru/brun, klei/brun, sheld/dhru,
			bonn/luch, bonn/pere, luch/pere, shia/meys, bhat/boer, bhat/buij, boer/buij, boer/nede,
			buij/nede, prui/camp}
			\draw[co] (\a) -- (\b);
		% upper right of centre
		\foreach \a/\b in {ricci/gz9, veri/ricci, veri/gz7, rizk/sandb, kuha/cast, kuha/omar, kuha/jons,
			cast/omar, cast/bren, omar/jons, omar/bren, jons/bren, scam/dray, mich/vela, mich/vaaz,
			mich/wenz, vela/wenz, vela/vaaz, vaaz/wenz, vaaz/itok, vaaz/begu, wenz/begu, itok/begu,
			chuc/summ, summ/circ, circ/chuc, vida/huds, micg/colc, colc/wolb, wolb/micg, schaf/morm,
			haus/wich}
			\draw[co] (\a) -- (\b);
		% right side
		\foreach \a/\b in {rhod/mahl, rhod/reed, rhod/davm, rhod/ogaw, mahl/reed, mahl/davm, mahl/ogaw,
			reed/davm, reed/ogaw, davm/ogaw, ogaw/baib, ogaw/dilf, ogaw/wahl, ogaw/balld, baib/wahl,
			dilf/balld, dilf/wahl, wahl/balld, baib/dilf, mill/brod, brod/fang, fang/mill, halz/edmu,
			naid/tenz, naid/wilh, tenz/wilh, wilh/schup, kefft/ledg, kefft/more, kefft/purc, ledg/more,
			ledg/calab, more/purc, more/calab, purc/calab,
			bergh/wtt, bergh/sndb, bergh/hutt, bergh/fedy, bergh/abdu, bergh/jaeg, bergh/fuch, bergh/kant,
			bergh/chat, wtt/sndb, sndb/hutt, hutt/jaeg, wtt/fedy, fedy/abdu, abdu/fuch, fuch/chat,
			chat/kant, kant/jaeg, lindh/wtt, lindh/abdu,
			robg/mavk, robg/cave, mavk/nune, cave/nune, cave/ozal, nune/ozal, robg/nune, mavk/ozal,
			barw/till, barw/corb, till/hors, corb/hors, barw/hors, fao/tayf, tayf/helb, helb/fao,
			hand/stap, lins/shma, lins/wipe, shma/wipe, shma/bell, wipe/bell, lins/bell,
			carr/pasc, pasc/sang, sang/vita, pasc/vita, johp/kerl,
			liou/pude, liou/font, pude/font, pude/grec, pude/nova, font/mola, font/ueda, grec/nova,
			nova/ueda, ueda/vrie, mola/vrie, ueda/mola, font/nova,
			beec/garb, beec/ottp, garb/ottp, garb/bang, ottp/bang, micha/tsan, micha/schs, tsan/schs,
			strm/tsin, wern/grim, mcgo/gonz, mcgo/dufr, mcgo/aube, gonz/aube, gonz/kimm, dufr/aube,
			dufr/chag, aube/kimm, aube/chag, aube/lehm, kimm/lehm, chag/lehm,
			simo/ngat, band/ngat, gela/ngat, tora/ngat, simo/band}
			\draw[co] (\a) -- (\b);
		% centre
		\foreach \a/\b in {olse/feng, cort/mead, pham/ivan, pham/kerr, ivan/kerr, kats/sant,
			bald/mull, bald/kova, mull/kova, kova/robe, kova/hb10, robe/hb12, fedo/borc, fedo/tamm,
			borc/tamm, poul/karam, poul/gian, karam/gian, karam/bhut, gian/bhut, bhut/rama, bhut/lidd,
			rama/lidd, karam/rama, gian/geis, geis/wool, wool/bhut, nybe/fros, nybe/delg, fros/delg,
			maki/ostr, maki/hira, ostr/hira, bish/coel, bish/tana, coel/tana, ucar/reye, lars/amar}
			\draw[co] (\a) -- (\b);
		% Wang star and lower right
		\foreach \b in {dcru, nort, kura, nigh, lur, gund, dudl, tuns, stra, maye, kupf, gala, orti,
			pete, hama, roga, sidd, lyon, brau, reyn}
			\draw[co] (wang) -- (\b);
		\foreach \a/\b in {nort/kura, kura/gund, nigh/gund, dcru/lur, lur/tuns, tuns/dudl, stra/maye,
			maye/kupf, gala/orti, orti/roga, roga/sidd, sidd/lyon, lyon/brau, brau/roga, pete/hama,
			gala/tuns, dcru/nort, nigh/stra,
			harl/ober, harl/zhen, ober/zhen, gerr/louw, gerr/stro2, louw/stro2,
			dola/ishi, dola/vane, ishi/vane, sant2/fran, kuzn/abeh, kuzn/lope, abeh/mora, lope/mora,
			kuzn/mora, alva2/koch, alva2/reis, koch/reis, brook/okad, brook/fisc, okad/fisc,
			pauw/seng, pauw/morr, seng/morr, hoan/ruth, schm/mons, schm/yilm, mons/cole, yilm/cole,
			schm/cole}
			\draw[co] (\a) -- (\b);
		% lower centre
		\foreach \a/\b in {kaur/mend, hori/dubr, hori/lebl, hori/wein, dubr/wein, lebl/wein, adam/sequ,
			dias/fole, dias/khan, fole/mose, khan/mose, dias/mose, bern/ngoc, bern/pola, ngoc/pola,
			hart/sing, moor/tell, ibra/salo, ibra/carv, salo/jone, carv/jone, ibra/jone}
			\draw[co] (\a) -- (\b);
	\end{scope}
\end{tikzpicture}
\end{document}
